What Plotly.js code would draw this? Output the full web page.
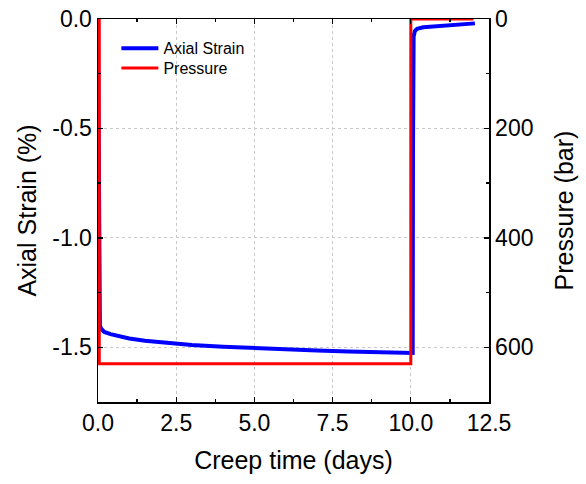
<!DOCTYPE html>
<html>
<head>
<meta charset="utf-8">
<script src="https://cdn.plot.ly/plotly-3.0.1.min.js"></script>
<style>html,body{margin:0;padding:0;background:#fff;}#chart{width:586px;height:484px;}</style>
</head>
<body>
<div id="chart"></div>
<script>
// Axial strain series (days, %)
const strainTime = [0, 0.03, 0.04, 0.06, 0.1, 0.2, 0.4, 0.7, 1.0, 1.5, 2.0, 2.5, 3.0, 4.0, 5.0, 6.0, 7.0, 8.0, 9.0, 9.98, 10.06, 10.07, 10.09, 10.13, 10.2, 10.4, 10.7, 11.0, 11.5, 12.05];
const strainValues = [0, -0.6, -1.38, -1.40, -1.415, -1.43, -1.44, -1.452, -1.46, -1.47, -1.477, -1.483, -1.489, -1.497, -1.504, -1.51, -1.515, -1.519, -1.523, -1.526, -1.526, -0.6, -0.08, -0.055, -0.045, -0.038, -0.034, -0.03, -0.025, -0.02];
// Pressure series (days, bar)
const pressureTime = [0, 0.04, 0.04, 10.0, 10.0, 12.0];
const pressureValues = [0, 0, 630, 630, 0, 0];
// Tick labels
const xTickVals = [0, 2.5, 5, 7.5, 10, 12.5];
const xTickText = ["0.0", "2.5", "5.0", "7.5", "10.0", "12.5"];
const yTickVals = [0, -0.5, -1.0, -1.5];
const yTickText = ["0.0", "-0.5", "-1.0", "-1.5"];
const y2TickVals = [0, 200, 400, 600];
const y2TickText = ["0", "200", "400", "600"];

const FONT = "Liberation Sans, Arial, sans-serif";

const traces = [
  {x: strainTime, y: strainValues, name: "Axial Strain", type: "scatter", mode: "lines",
   line: {color: "#0000ff", width: 4}, yaxis: "y", legend: "legend"},
  {x: pressureTime, y: pressureValues, name: "Pressure", type: "scatter", mode: "lines",
   line: {color: "#ff0000", width: 3}, yaxis: "y2", legend: "legend2"},
  // empty trace to attach the top (frame) axis
  {x: [], y: [], type: "scatter", mode: "lines", xaxis: "x2", yaxis: "y", showlegend: false, hoverinfo: "skip"}
];

const axisCommon = {
  showline: true, linecolor: "#000", linewidth: 1.5,
  ticks: "inside", ticklen: 5, tickwidth: 1.3, tickcolor: "#000",
  zeroline: false,
  tickfont: {family: FONT, size: 23, color: "#000"}
};

const legendCommon = {
  xanchor: "left", yanchor: "top", x: 0.047, itemwidth: 37,
  bgcolor: "rgba(0,0,0,0)", borderwidth: 0,
  font: {family: FONT, size: 16, color: "#000"}
};

const layout = {
  width: 586, height: 484,
  margin: {l: 98, r: 97, t: 19, b: 82},
  paper_bgcolor: "#fff", plot_bgcolor: "#fff",
  showlegend: true,
  legend: Object.assign({}, legendCommon, {y: 0.968}),
  legend2: Object.assign({}, legendCommon, {y: 0.916}),
  xaxis: Object.assign({}, axisCommon, {
    range: [0, 12.5], tickmode: "array", tickvals: xTickVals, ticktext: xTickText,
    showgrid: true, gridcolor: "#c8c8c8", griddash: "dot", gridwidth: 1.2,
    minor: {dtick: 1.25, ticks: "inside", ticklen: 3, tickcolor: "#000", showgrid: false},
    title: {text: "Creep time (days)", font: {family: FONT, size: 25, color: "#000"}, standoff: 16}
  }),
  xaxis2: Object.assign({}, axisCommon, {
    overlaying: "x", side: "top", matches: "x",
    range: [0, 12.5], tickmode: "array", tickvals: xTickVals, showticklabels: false,
    showgrid: false,
    minor: {dtick: 1.25, ticks: "inside", ticklen: 3, tickcolor: "#000", showgrid: false}
  }),
  yaxis: Object.assign({}, axisCommon, {
    range: [-1.75, 0], tickmode: "array", tickvals: yTickVals, ticktext: yTickText,
    showgrid: true, gridcolor: "#c8c8c8", griddash: "dot", gridwidth: 1.2,
    minor: {dtick: 0.25, tick0: 0, ticks: "inside", ticklen: 3, tickcolor: "#000", showgrid: false},
    title: {text: "Axial Strain (%)", font: {family: FONT, size: 25, color: "#000"}, standoff: 8}
  }),
  yaxis2: Object.assign({}, axisCommon, {
    overlaying: "y", side: "right",
    range: [700, 0], tickmode: "array", tickvals: y2TickVals, ticktext: y2TickText,
    showgrid: false,
    minor: {dtick: 100, tick0: 0, ticks: "inside", ticklen: 3, tickcolor: "#000", showgrid: false},
    title: {text: "Pressure (bar)", font: {family: FONT, size: 25, color: "#000"}, standoff: 23}
  })
};

Plotly.newPlot("chart", traces, layout, {displayModeBar: false, staticPlot: true});
</script>
</body>
</html>
